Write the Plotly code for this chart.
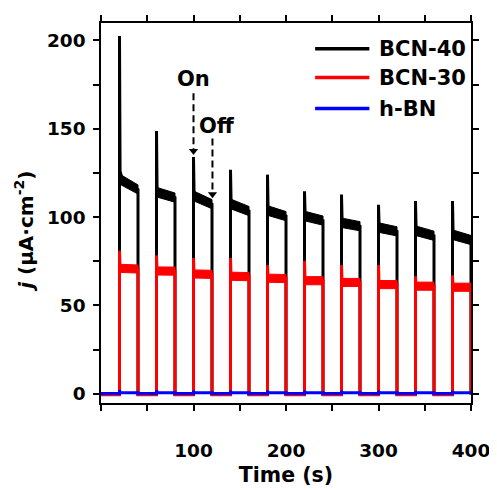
import plotly.graph_objects as go

# ---------------- data ----------------
t_on = [20, 60, 100, 140, 180, 220, 260, 300, 340, 380]
t_off = [40, 80, 120, 160, 200, 240, 280, 320, 360, 400]

bcn40_peak = [202.5, 148.7, 134.0, 126.7, 124.0, 114.6, 112.8, 106.9, 109.1, 109.1]
bcn40_knee = [128.0, 118.5, 116.0, 111.5, 108.0, 105.0, 101.0, 98.0, 96.5, 94.0]
bcn40_start = [121.3, 114.0, 111.8, 107.3, 103.6, 100.5, 96.7, 94.0, 92.2, 89.9]
bcn40_end = [115.6, 111.0, 107.3, 103.4, 100.5, 98.0, 94.8, 91.9, 89.4, 87.0]
bcn40_dark = -0.4

bcn30_peak = [81.0, 78.3, 76.8, 76.8, 72.8, 75.2, 72.8, 72.8, 66.5, 67.0]
bcn30_start = [71.0, 69.5, 67.8, 66.5, 65.4, 64.0, 63.0, 61.8, 60.9, 60.3]
bcn30_end = [70.6, 69.4, 67.6, 66.3, 65.2, 64.0, 63.0, 61.8, 60.9, 60.3]
bcn30_dark = -0.5

hbn_peak = [2.0, 2.0, 1.8, 1.8, 1.8, 1.7, 1.7, 1.7, 1.6, 1.6]
hbn_light = [0.6, 0.6, 0.6, 0.6, 0.6, 0.6, 0.6, 0.6, 0.6, 0.6]
hbn_dark = 0.2

series_names = ["BCN-40", "BCN-30", "h-BN"]
x_tick_vals = [100, 200, 300, 400]
x_tick_text = ["100", "200", "300", "400"]
y_tick_vals = [0, 50, 100, 150, 200]
y_tick_text = ["0", "50", "100", "150", "200"]

# On / Off marker positions (time, current at arrow tip)
on_arrow = (100, 135.2)
off_arrow = (120.5, 110.7)

# ---------------- style ----------------
BLACK = "#000000"
RED = "#ff0000"
BLUE = "#0000ff"
FONT = "DejaVu Sans"
BAND40 = 2.6   # half thickness of noisy plateau band
BAND30 = 2.3

fig = go.Figure()

# ---------- BCN-40 ----------
x40, y40 = [0], [bcn40_dark]
for i in range(len(t_on)):
    a, b = t_on[i], t_off[i]
    x40 += [a, a, a, a + 0.6, a + 3, b, b]
    y40 += [bcn40_dark, bcn40_peak[i], bcn40_knee[i], bcn40_knee[i] - 2,
            bcn40_start[i], bcn40_end[i], bcn40_dark]
    if i + 1 < len(t_on):
        x40 += [t_on[i + 1]]
        y40 += [bcn40_dark]
fig.add_trace(go.Scatter(x=x40, y=y40, mode="lines",
                         line=dict(color=BLACK, width=3), showlegend=False,
                         name=series_names[0]))
for i in range(len(t_on)):
    a, b = t_on[i], t_off[i]
    fig.add_trace(go.Scatter(
        x=[a, a, a + 1.5, b, b, a],
        y=[bcn40_start[i] - BAND40, bcn40_knee[i], bcn40_start[i] + BAND40,
           bcn40_end[i] + BAND40, bcn40_end[i] - BAND40, bcn40_start[i] - BAND40],
        mode="lines", fill="toself", fillcolor=BLACK,
        line=dict(color=BLACK, width=1), showlegend=False, hoverinfo="skip"))

# ---------- BCN-30 ----------
x30, y30 = [0], [bcn30_dark]
for i in range(len(t_on)):
    a, b = t_on[i], t_off[i]
    x30 += [a, a, a + 0.6, b, b]
    y30 += [bcn30_dark, bcn30_peak[i], bcn30_start[i], bcn30_end[i], bcn30_dark]
    if i + 1 < len(t_on):
        x30 += [t_on[i + 1]]
        y30 += [bcn30_dark]
fig.add_trace(go.Scatter(x=x30, y=y30, mode="lines",
                         line=dict(color=RED, width=3), showlegend=False,
                         name=series_names[1]))
for i in range(len(t_on)):
    a, b = t_on[i], t_off[i]
    fig.add_trace(go.Scatter(
        x=[a + 0.4, a + 0.4, b, b, a + 0.4],
        y=[bcn30_start[i] - BAND30, bcn30_start[i] + BAND30,
           bcn30_end[i] + BAND30, bcn30_end[i] - BAND30, bcn30_start[i] - BAND30],
        mode="lines", fill="toself", fillcolor=RED,
        line=dict(color=RED, width=1), showlegend=False, hoverinfo="skip"))

# ---------- h-BN ----------
xb, yb = [0], [hbn_dark]
for i in range(len(t_on)):
    a, b = t_on[i], t_off[i]
    xb += [a, a, a + 0.8, b, b]
    yb += [hbn_dark, hbn_peak[i], hbn_light[i], hbn_light[i], hbn_dark]
    if i + 1 < len(t_on):
        xb += [t_on[i + 1]]
        yb += [hbn_dark]
fig.add_trace(go.Scatter(x=xb, y=yb, mode="lines",
                         line=dict(color=BLUE, width=3), showlegend=False,
                         name=series_names[2]))

# ---------- manual legend ----------
leg_colors = [BLACK, RED, BLUE]
leg_y = [0.9324, 0.8565, 0.7747]
for name, c, yy in zip(series_names, leg_colors, leg_y):
    fig.add_shape(type="line", xref="paper", yref="paper",
                  x0=0.5787, x1=0.7253, y0=yy, y1=yy,
                  line=dict(color=c, width=3.5))
    fig.add_annotation(xref="paper", yref="paper", x=0.745, y=yy,
                       xanchor="left", yanchor="middle", showarrow=False,
                       text=name,
                       font=dict(family=FONT, size=21, color="black", weight="bold"))

# ---------- On / Off markers ----------
fig.add_annotation(x=100, y=178.2, text="On", showarrow=False,
                   xanchor="center", yanchor="middle",
                   font=dict(family=FONT, size=21, color="black", weight="bold"))
fig.add_annotation(x=125.7, y=151.6, text="Off", showarrow=False,
                   xanchor="center", yanchor="middle",
                   font=dict(family=FONT, size=21, color="black", weight="bold"))
fig.add_shape(type="line", x0=on_arrow[0], x1=on_arrow[0], y0=170, y1=on_arrow[1] + 2,
              line=dict(color="black", width=2, dash="7px,4px"))
fig.add_shape(type="line", x0=off_arrow[0], x1=off_arrow[0], y0=144.5, y1=off_arrow[1] + 2,
              line=dict(color="black", width=2, dash="7px,4px"))
fig.add_trace(go.Scatter(x=[on_arrow[0], off_arrow[0]],
                         y=[on_arrow[1] + 2.2, off_arrow[1] + 2.2],
                         mode="markers", showlegend=False, hoverinfo="skip",
                         marker=dict(symbol="triangle-down", size=8, color="black")))

# ---------- y title ----------
fig.add_annotation(xref="paper", yref="paper", x=-0.208, y=0.4506,
                   xanchor="center", yanchor="middle",
                   textangle=-90, showarrow=False,
                   text="<i>j</i> (μA·cm<sup>-2</sup>)",
                   font=dict(family=FONT, size=20, color="black", weight="bold"))

axis_common = dict(showgrid=False, zeroline=False, showline=True,
                   linecolor="black", linewidth=1.5, mirror="ticks",
                   ticks="outside", ticklen=6, tickwidth=1.5, tickcolor="black",
                   tickfont=dict(family=FONT, size=18.5, color="black", weight="bold"))

fig.update_xaxes(range=[0, 400], tickmode="array", tickvals=x_tick_vals,
                 ticktext=x_tick_text, ticklabelstandoff=24,
                 minor=dict(tick0=0, dtick=50, ticks="outside", ticklen=6,
                            tickwidth=1.5, tickcolor="black"),
                 title=dict(text="Time (s)", standoff=8,
                            font=dict(family=FONT, size=20.5, color="black", weight="bold")),
                 **axis_common)
fig.update_yaxes(range=[-5.2, 209.8], tickmode="array", tickvals=y_tick_vals,
                 ticktext=y_tick_text, ticklabelstandoff=4,
                 minor=dict(tick0=0, dtick=25, ticks="outside", ticklen=6,
                            tickwidth=1.5, tickcolor="black"),
                 **axis_common)

# page body has an 8px margin, so the figure is sized to sit inside the window
fig.update_layout(width=489, height=482,
                  margin=dict(l=93, r=21, t=7, b=80),
                  paper_bgcolor="white", plot_bgcolor="white",
                  showlegend=False)

fig.write_html("out.html")
